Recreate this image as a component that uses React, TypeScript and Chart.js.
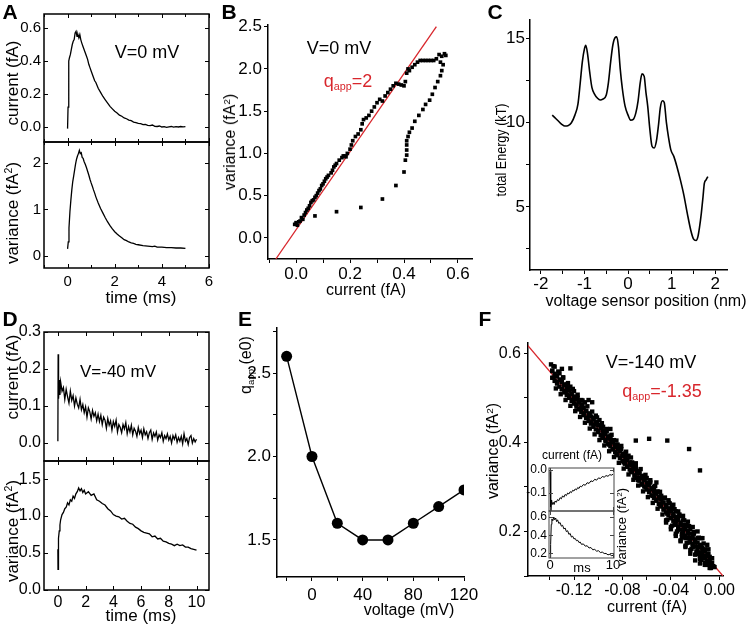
import React, { useEffect, useRef } from 'react';
import { Chart, registerables } from 'chart.js';
Chart.register(...registerables);

const FONT = '"Liberation Sans", Arial, Helvetica, sans-serif';
const RED = '#d8262c';
type Pt = [number, number];

// ---------------- DATA ----------------
// A: V=0 mV, current (fA) vs time (ms)
const aCurrent: Pt[] = [
  [0, -0.01], [0.02, 0.12], [0.05, 0.4], [0.08, 0.42], [0.12, 0.44], [0.16, 0.47], [0.2, 0.5], [0.24, 0.52],
  [0.28, 0.53], [0.32, 0.57], [0.36, 0.58], [0.4, 0.55], [0.44, 0.56], [0.48, 0.54], [0.52, 0.56], [0.56, 0.53],
  [0.6, 0.51], [0.65, 0.49], [0.7, 0.47], [0.75, 0.45], [0.8, 0.43], [0.85, 0.41], [0.9, 0.38], [0.95, 0.36],
  [1.0, 0.34], [1.05, 0.32], [1.1, 0.3], [1.15, 0.28], [1.2, 0.27], [1.3, 0.235], [1.4, 0.21], [1.5, 0.185],
  [1.6, 0.165], [1.7, 0.145], [1.8, 0.125], [1.9, 0.11], [2.0, 0.095], [2.1, 0.085], [2.2, 0.072], [2.3, 0.065],
  [2.4, 0.055], [2.5, 0.05], [2.6, 0.042], [2.7, 0.038], [2.8, 0.03], [2.9, 0.027], [3.0, 0.022], [3.1, 0.02],
  [3.2, 0.014], [3.3, 0.016], [3.4, 0.01], [3.5, 0.008], [3.6, 0.012], [3.7, 0.004], [3.8, 0.003], [3.9, 0.006],
  [4.0, 0.0], [4.1, 0.002], [4.2, -0.002], [4.3, 0.001], [4.4, 0.003], [4.5, -0.001], [4.6, 0.002], [4.7, 0.0],
  [4.8, 0.003], [4.9, 0.001], [5.0, 0.002],
];
// A: variance (fA^2) vs time (ms)
const aVariance: Pt[] = [
  [0, 0.15], [0.03, 0.3], [0.06, 0.6], [0.1, 0.95], [0.14, 1.2], [0.18, 1.42], [0.22, 1.6], [0.26, 1.72],
  [0.3, 1.85], [0.34, 1.98], [0.38, 2.08], [0.42, 2.15], [0.46, 2.2], [0.5, 2.27], [0.54, 2.2], [0.58, 2.22],
  [0.62, 2.12], [0.66, 2.1], [0.7, 2.03], [0.75, 1.97], [0.8, 1.9], [0.85, 1.82], [0.9, 1.74], [0.95, 1.65],
  [1.0, 1.57], [1.05, 1.5], [1.1, 1.42], [1.15, 1.35], [1.2, 1.27], [1.3, 1.14], [1.4, 1.02], [1.5, 0.92],
  [1.6, 0.82], [1.7, 0.73], [1.8, 0.65], [1.9, 0.58], [2.0, 0.52], [2.1, 0.47], [2.2, 0.43], [2.3, 0.39],
  [2.4, 0.35], [2.5, 0.33], [2.6, 0.3], [2.7, 0.28], [2.8, 0.27], [2.9, 0.25], [3.0, 0.24], [3.2, 0.22],
  [3.4, 0.21], [3.6, 0.2], [3.7, 0.21], [3.8, 0.19], [4.0, 0.19], [4.2, 0.18], [4.4, 0.18], [4.6, 0.17],
  [4.8, 0.17], [5.0, 0.16],
];
// B: variance vs current (V=0 mV)
const bScatter: Pt[] = [
  [-0.005, 0.16], [0, 0.18], [0.005, 0.15], [0.01, 0.19], [0.015, 0.2], [0.02, 0.24], [0.025, 0.22], [0.03, 0.27],
  [0.035, 0.3], [0.04, 0.33], [0.045, 0.35], [0.05, 0.38], [0.055, 0.42], [0.06, 0.44], [0.065, 0.45], [0.07, 0.48],
  [0.075, 0.5], [0.08, 0.53], [0.085, 0.56], [0.09, 0.58], [0.095, 0.62], [0.1, 0.64], [0.105, 0.67], [0.11, 0.7],
  [0.115, 0.72], [0.12, 0.74], [0.13, 0.77], [0.135, 0.8], [0.14, 0.84], [0.145, 0.86], [0.15, 0.88], [0.16, 0.92],
  [0.17, 0.95], [0.175, 0.97], [0.18, 0.97], [0.185, 0.96], [0.19, 1.0], [0.2, 1.05], [0.205, 1.1], [0.21, 1.15],
  [0.22, 1.2], [0.23, 1.23], [0.24, 1.28], [0.245, 1.35], [0.25, 1.4], [0.26, 1.42], [0.27, 1.45], [0.28, 1.5],
  [0.29, 1.55], [0.3, 1.6], [0.31, 1.64], [0.32, 1.62], [0.33, 1.68], [0.34, 1.72], [0.35, 1.76], [0.36, 1.8],
  [0.37, 1.83], [0.38, 1.82], [0.39, 1.81], [0.4, 1.8], [0.405, 1.85], [0.41, 1.95], [0.415, 2.0], [0.42, 1.98],
  [0.43, 2.02], [0.44, 2.05], [0.45, 2.08], [0.46, 2.1], [0.47, 2.1], [0.48, 2.1], [0.49, 2.1], [0.5, 2.1],
  [0.51, 2.1], [0.52, 2.12], [0.53, 2.17], [0.535, 2.08], [0.54, 2.15], [0.55, 2.18], [0.555, 2.16], [0.545, 2.05],
  [0.54, 1.98], [0.535, 1.92], [0.525, 1.85], [0.515, 1.78], [0.505, 1.7], [0.495, 1.63], [0.48, 1.58], [0.47, 1.52],
  [0.455, 1.45], [0.44, 1.38], [0.43, 1.3], [0.42, 1.25], [0.415, 1.2], [0.41, 1.15], [0.41, 1.1], [0.41, 1.04],
  [0.41, 0.98], [0.405, 0.92], [0.4, 0.78], [0.37, 0.62], [0.32, 0.46], [0.24, 0.36], [0.15, 0.31], [0.07, 0.26],
];
const bFitX = [-0.075, 0.52];
const bFitY = [-0.25, 2.5];
// C: total energy (kT) vs voltage sensor position (nm)
const cEnergy: Pt[] = [
  [-1.74, 10.45], [-1.68, 10.3], [-1.6, 10.1], [-1.52, 9.9], [-1.45, 9.8], [-1.38, 9.82], [-1.3, 10.0],
  [-1.22, 10.45], [-1.15, 11.1], [-1.1, 12.3], [-1.05, 13.6], [-1.0, 14.4], [-0.97, 14.6], [-0.93, 14.1],
  [-0.88, 13.0], [-0.83, 12.1], [-0.77, 11.7], [-0.7, 11.45], [-0.64, 11.35], [-0.58, 11.4], [-0.5, 11.65],
  [-0.45, 12.4], [-0.4, 13.6], [-0.35, 14.6], [-0.3, 15.05], [-0.26, 15.1], [-0.22, 14.5], [-0.18, 13.2],
  [-0.13, 12.0], [-0.07, 11.0], [0.0, 10.45], [0.06, 10.15], [0.12, 10.2], [0.18, 10.6], [0.23, 11.3],
  [0.28, 12.4], [0.32, 12.9], [0.37, 12.75], [0.41, 11.8], [0.45, 11.0], [0.5, 9.6], [0.55, 8.6], [0.6, 8.5],
  [0.65, 8.9], [0.7, 9.9], [0.74, 10.9], [0.79, 11.3], [0.83, 11.2], [0.88, 10.0], [0.93, 9.1], [0.98, 8.4],
  [1.05, 8.0], [1.12, 7.4], [1.2, 6.6], [1.28, 5.7], [1.36, 4.6], [1.44, 3.6], [1.5, 3.1], [1.56, 3.0],
  [1.6, 3.2], [1.64, 3.8], [1.68, 4.6], [1.72, 5.6], [1.75, 6.4], [1.79, 6.6], [1.83, 6.8],
];
// D: V=-40 mV current (fA) vs time (ms)
const dCurrent: Pt[] = [
  [0, 0.005], [0.02, 0.24], [0.05, 0.12], [0.1, 0.17], [0.15, 0.13], [0.2, 0.165], [0.3, 0.14], [0.4, 0.15],
  [0.5, 0.118], [0.6, 0.145], [0.7, 0.125], [0.8, 0.108], [0.9, 0.14], [1.0, 0.115], [1.1, 0.128], [1.2, 0.1],
  [1.3, 0.122], [1.4, 0.105], [1.5, 0.095], [1.6, 0.118], [1.7, 0.09], [1.8, 0.104], [1.9, 0.082], [2.0, 0.098],
  [2.1, 0.07], [2.2, 0.095], [2.3, 0.085], [2.4, 0.065], [2.5, 0.088], [2.6, 0.072], [2.7, 0.082], [2.8, 0.06],
  [2.9, 0.078], [3.0, 0.058], [3.1, 0.075], [3.2, 0.05], [3.3, 0.07], [3.4, 0.062], [3.5, 0.04], [3.6, 0.066],
  [3.7, 0.048], [3.8, 0.06], [3.9, 0.035], [4.0, 0.058], [4.1, 0.045], [4.2, 0.062], [4.3, 0.03], [4.4, 0.05],
  [4.5, 0.042], [4.6, 0.028], [4.7, 0.05], [4.8, 0.038], [4.9, 0.055], [5.0, 0.025], [5.1, 0.044], [5.2, 0.03],
  [5.3, 0.048], [5.4, 0.022], [5.5, 0.04], [5.6, 0.032], [5.7, 0.018], [5.8, 0.042], [5.9, 0.025], [6.0, 0.035],
  [6.1, 0.015], [6.2, 0.038], [6.3, 0.022], [6.4, 0.03], [6.5, 0.012], [6.6, 0.028], [6.7, 0.035], [6.8, 0.01],
  [6.9, 0.027], [7.0, 0.018], [7.1, 0.03], [7.2, 0.008], [7.3, 0.022], [7.4, 0.015], [7.5, 0.028], [7.6, 0.005],
  [7.7, 0.02], [7.8, 0.012], [7.9, 0.025], [8.0, 0.008], [8.1, 0.018], [8.2, 0.0], [8.3, 0.02], [8.4, 0.01],
  [8.5, 0.022], [8.6, 0.002], [8.7, 0.015], [8.8, 0.005], [8.9, 0.018], [9.0, -0.002], [9.1, 0.025], [9.2, 0.005],
  [9.3, 0.012], [9.4, -0.004], [9.5, 0.015], [9.6, 0.02], [9.7, 0.0], [9.8, 0.012], [9.9, 0.003], [10.0, 0.01],
];
// D: variance (fA^2) vs time (ms)
const dVariance: Pt[] = [
  [0, 0.55], [0.01, 0.28], [0.03, 0.6], [0.06, 0.7], [0.1, 0.8], [0.15, 0.88], [0.2, 0.95], [0.3, 1.02],
  [0.4, 1.05], [0.5, 1.1], [0.6, 1.12], [0.7, 1.18], [0.8, 1.15], [0.9, 1.22], [1.0, 1.2], [1.1, 1.27],
  [1.2, 1.24], [1.3, 1.3], [1.4, 1.33], [1.5, 1.38], [1.6, 1.34], [1.7, 1.37], [1.8, 1.32], [1.9, 1.35],
  [2.0, 1.3], [2.2, 1.33], [2.4, 1.28], [2.6, 1.3], [2.8, 1.22], [3.0, 1.2], [3.2, 1.17], [3.4, 1.15],
  [3.6, 1.1], [3.8, 1.07], [4.0, 1.02], [4.2, 1.0], [4.4, 0.99], [4.6, 0.96], [4.8, 0.97], [5.0, 0.93],
  [5.2, 0.9], [5.4, 0.89], [5.6, 0.85], [5.8, 0.83], [6.0, 0.8], [6.2, 0.78], [6.4, 0.77], [6.6, 0.76],
  [6.8, 0.72], [7.0, 0.73], [7.2, 0.69], [7.4, 0.7], [7.6, 0.66], [7.8, 0.65], [8.0, 0.63], [8.2, 0.62],
  [8.4, 0.6], [8.6, 0.62], [8.8, 0.6], [9.0, 0.61], [9.2, 0.58], [9.4, 0.58], [9.6, 0.56], [9.8, 0.55],
  [10.0, 0.54],
];
// E: q_app vs voltage
const eVoltage = [-20, 0, 20, 40, 60, 80, 100, 120];
const eQapp = [2.6, 2.0, 1.6, 1.5, 1.5, 1.6, 1.7, 1.8];
// F: variance vs current (V=-140 mV)
const fScatter: Pt[] = [
  [-0.139, 0.575], [-0.138, 0.56], [-0.137, 0.545], [-0.136, 0.57], [-0.135, 0.55], [-0.134, 0.535], [-0.132, 0.555],
  [-0.131, 0.54], [-0.13, 0.52], [-0.129, 0.545], [-0.128, 0.53], [-0.127, 0.515], [-0.126, 0.53], [-0.125, 0.52],
  [-0.124, 0.505], [-0.123, 0.525], [-0.122, 0.51], [-0.121, 0.495], [-0.123, 0.566], [-0.12, 0.515], [-0.119, 0.5],
  [-0.118, 0.485], [-0.117, 0.5], [-0.116, 0.49], [-0.115, 0.475], [-0.114, 0.495], [-0.113, 0.485], [-0.112, 0.465],
  [-0.111, 0.49], [-0.11, 0.47], [-0.109, 0.455], [-0.108, 0.495], [-0.107, 0.465], [-0.106, 0.445], [-0.105, 0.49],
  [-0.104, 0.455], [-0.103, 0.44], [-0.102, 0.46], [-0.101, 0.445], [-0.1, 0.425], [-0.099, 0.45], [-0.098, 0.435],
  [-0.097, 0.415], [-0.096, 0.435], [-0.095, 0.42], [-0.094, 0.405], [-0.093, 0.425], [-0.092, 0.41], [-0.091, 0.395],
  [-0.09, 0.415], [-0.089, 0.4], [-0.088, 0.385], [-0.087, 0.405], [-0.086, 0.39], [-0.085, 0.375], [-0.084, 0.395],
  [-0.083, 0.385], [-0.082, 0.365], [-0.081, 0.385], [-0.08, 0.37], [-0.079, 0.355], [-0.078, 0.375], [-0.077, 0.36],
  [-0.076, 0.345], [-0.075, 0.37], [-0.074, 0.35], [-0.073, 0.335], [-0.072, 0.355], [-0.071, 0.34], [-0.07, 0.325],
  [-0.069, 0.345], [-0.068, 0.33], [-0.067, 0.315], [-0.066, 0.335], [-0.065, 0.32], [-0.064, 0.305], [-0.063, 0.325],
  [-0.062, 0.315], [-0.061, 0.3], [-0.06, 0.32], [-0.059, 0.305], [-0.058, 0.29], [-0.057, 0.31], [-0.056, 0.295],
  [-0.055, 0.28], [-0.054, 0.3], [-0.053, 0.285], [-0.052, 0.27], [-0.051, 0.29], [-0.05, 0.275], [-0.049, 0.26],
  [-0.048, 0.28], [-0.047, 0.265], [-0.046, 0.25], [-0.045, 0.275], [-0.044, 0.255], [-0.043, 0.24], [-0.042, 0.265],
  [-0.041, 0.245], [-0.04, 0.23], [-0.039, 0.255], [-0.038, 0.235], [-0.037, 0.215], [-0.036, 0.245], [-0.035, 0.225],
  [-0.034, 0.205], [-0.033, 0.235], [-0.032, 0.215], [-0.031, 0.195], [-0.03, 0.225], [-0.029, 0.205], [-0.028, 0.185],
  [-0.027, 0.215], [-0.026, 0.195], [-0.025, 0.175], [-0.024, 0.205], [-0.023, 0.185], [-0.022, 0.165], [-0.021, 0.195],
  [-0.02, 0.175], [-0.019, 0.155], [-0.018, 0.185], [-0.017, 0.165], [-0.016, 0.145], [-0.015, 0.17], [-0.014, 0.155],
  [-0.013, 0.14], [-0.012, 0.16], [-0.011, 0.145], [-0.01, 0.13], [-0.009, 0.15], [-0.008, 0.135], [-0.007, 0.125],
  [-0.006, 0.13], [-0.005, 0.122], [-0.012, 0.125], [-0.016, 0.128], [-0.02, 0.135], [-0.024, 0.15], [-0.028, 0.165],
  [-0.032, 0.18], [-0.036, 0.195], [-0.04, 0.21], [-0.044, 0.225], [-0.069, 0.404], [-0.058, 0.408], [-0.043, 0.404],
  [-0.025, 0.385], [-0.016, 0.337], [-0.015, 0.185], [-0.052, 0.31], [-0.09, 0.43], [-0.13, 0.565],
  [-0.137, 0.571], [-0.135, 0.521], [-0.133, 0.559], [-0.131, 0.508], [-0.129, 0.546], [-0.127, 0.495], [-0.125, 0.533],
  [-0.123, 0.482], [-0.121, 0.52], [-0.119, 0.47], [-0.117, 0.507], [-0.115, 0.457], [-0.113, 0.494], [-0.111, 0.444],
  [-0.109, 0.481], [-0.107, 0.431], [-0.105, 0.469], [-0.103, 0.418], [-0.101, 0.456], [-0.099, 0.405], [-0.097, 0.443],
  [-0.095, 0.393], [-0.093, 0.43], [-0.091, 0.38], [-0.089, 0.417], [-0.087, 0.367], [-0.085, 0.404], [-0.083, 0.354],
  [-0.081, 0.392], [-0.079, 0.341], [-0.077, 0.379], [-0.075, 0.328], [-0.073, 0.366], [-0.071, 0.316], [-0.069, 0.353],
  [-0.067, 0.303], [-0.065, 0.34], [-0.063, 0.29], [-0.061, 0.327], [-0.059, 0.277], [-0.057, 0.315], [-0.055, 0.264],
  [-0.053, 0.302], [-0.051, 0.251], [-0.049, 0.289], [-0.047, 0.238], [-0.045, 0.276], [-0.043, 0.226], [-0.041, 0.263],
  [-0.039, 0.213], [-0.037, 0.25], [-0.035, 0.2], [-0.033, 0.238], [-0.031, 0.187], [-0.029, 0.225], [-0.027, 0.174],
  [-0.025, 0.212], [-0.023, 0.161], [-0.021, 0.199], [-0.019, 0.149], [-0.017, 0.186], [-0.015, 0.136], [-0.013, 0.173],
  [-0.011, 0.125], [-0.009, 0.16], [-0.007, 0.118],
  [-0.138, 0.561], [-0.138, 0.545], [-0.136, 0.554], [-0.136, 0.538], [-0.134, 0.548], [-0.134, 0.532],
  [-0.132, 0.541], [-0.132, 0.525], [-0.13, 0.535], [-0.13, 0.519], [-0.128, 0.528], [-0.128, 0.512],
  [-0.126, 0.522], [-0.126, 0.506], [-0.124, 0.516], [-0.124, 0.5], [-0.122, 0.509], [-0.122, 0.493],
  [-0.12, 0.503], [-0.12, 0.487], [-0.118, 0.496], [-0.118, 0.48], [-0.116, 0.49], [-0.116, 0.474],
  [-0.114, 0.484], [-0.114, 0.468], [-0.112, 0.477], [-0.112, 0.461], [-0.11, 0.471], [-0.11, 0.455],
  [-0.108, 0.464], [-0.108, 0.448], [-0.106, 0.458], [-0.106, 0.442], [-0.104, 0.451], [-0.104, 0.435],
  [-0.102, 0.445], [-0.102, 0.429], [-0.1, 0.439], [-0.1, 0.423], [-0.098, 0.432], [-0.098, 0.416],
  [-0.096, 0.426], [-0.096, 0.41], [-0.094, 0.419], [-0.094, 0.403], [-0.092, 0.413], [-0.092, 0.397],
  [-0.09, 0.407], [-0.09, 0.391], [-0.088, 0.4], [-0.088, 0.384], [-0.086, 0.394], [-0.086, 0.378],
  [-0.084, 0.387], [-0.084, 0.371], [-0.082, 0.381], [-0.082, 0.365], [-0.08, 0.374], [-0.08, 0.358],
  [-0.078, 0.368], [-0.078, 0.352], [-0.076, 0.362], [-0.076, 0.346], [-0.074, 0.355], [-0.074, 0.339],
  [-0.072, 0.349], [-0.072, 0.333], [-0.07, 0.342], [-0.07, 0.326], [-0.068, 0.336], [-0.068, 0.32],
  [-0.066, 0.33], [-0.066, 0.314], [-0.064, 0.323], [-0.064, 0.307], [-0.062, 0.317], [-0.062, 0.301],
  [-0.06, 0.31], [-0.06, 0.294], [-0.058, 0.304], [-0.058, 0.288], [-0.056, 0.297], [-0.056, 0.281],
  [-0.054, 0.291], [-0.054, 0.275], [-0.052, 0.285], [-0.052, 0.269], [-0.05, 0.278], [-0.05, 0.262],
  [-0.048, 0.272], [-0.048, 0.256], [-0.046, 0.265], [-0.046, 0.249], [-0.044, 0.259], [-0.044, 0.243],
  [-0.042, 0.252], [-0.042, 0.236], [-0.04, 0.246], [-0.04, 0.23], [-0.038, 0.24], [-0.038, 0.224],
  [-0.036, 0.233], [-0.036, 0.217], [-0.034, 0.227], [-0.034, 0.211], [-0.032, 0.22], [-0.032, 0.204],
  [-0.03, 0.214], [-0.03, 0.198], [-0.028, 0.207], [-0.028, 0.191], [-0.026, 0.201], [-0.026, 0.185],
  [-0.024, 0.195], [-0.024, 0.179], [-0.022, 0.188], [-0.022, 0.172], [-0.02, 0.182], [-0.02, 0.166],
  [-0.018, 0.175], [-0.018, 0.159], [-0.016, 0.169], [-0.016, 0.153], [-0.014, 0.163], [-0.014, 0.147],
  [-0.012, 0.156], [-0.012, 0.14], [-0.01, 0.15], [-0.01, 0.134], [-0.008, 0.143], [-0.008, 0.127],
  [-0.044, 0.22], [-0.042, 0.27], [-0.04, 0.205], [-0.038, 0.26], [-0.036, 0.19], [-0.034, 0.245], [-0.032, 0.178],
  [-0.03, 0.235], [-0.028, 0.168], [-0.026, 0.222], [-0.024, 0.158], [-0.022, 0.21], [-0.02, 0.148], [-0.018, 0.2],
  [-0.016, 0.138], [-0.014, 0.185], [-0.012, 0.13], [-0.01, 0.17], [-0.008, 0.118], [-0.006, 0.14], [-0.004, 0.12],
];
const fFitX = [-0.16, 0.003];
const fFitY = [0.623, 0.1];
// F inset traces
const fInsetCurrent: Pt[] = [
  [0, -0.005], [0.08, -0.175], [0.15, -0.18], [0.25, -0.13], [0.35, -0.15], [0.5, -0.14], [0.65, -0.15], [0.8, -0.135],
  [1.0, -0.14], [1.2, -0.128], [1.4, -0.133], [1.6, -0.12], [1.8, -0.125], [2.0, -0.112], [2.2, -0.118], [2.4, -0.106],
  [2.6, -0.111], [2.8, -0.1], [3.0, -0.104], [3.2, -0.094], [3.4, -0.098], [3.6, -0.088], [3.8, -0.091], [4.0, -0.082],
  [4.2, -0.086], [4.4, -0.076], [4.6, -0.08], [4.8, -0.07], [5.0, -0.073], [5.3, -0.063], [5.6, -0.066], [5.9, -0.055],
  [6.2, -0.058], [6.5, -0.047], [6.8, -0.05], [7.1, -0.04], [7.4, -0.044], [7.7, -0.034], [8.0, -0.037], [8.3, -0.028],
  [8.6, -0.031], [8.9, -0.024], [9.2, -0.027], [9.5, -0.02], [9.8, -0.022], [10.0, -0.018],
];
const fInsetVariance: Pt[] = [
  [0, 0.16], [0.1, 0.3], [0.2, 0.52], [0.3, 0.58], [0.45, 0.56], [0.6, 0.6], [0.75, 0.57], [0.9, 0.59], [1.05, 0.55],
  [1.2, 0.57], [1.4, 0.53], [1.6, 0.54], [1.8, 0.5], [2.0, 0.51], [2.2, 0.47], [2.4, 0.48], [2.6, 0.44], [2.8, 0.45],
  [3.0, 0.41], [3.2, 0.42], [3.4, 0.38], [3.6, 0.39], [3.8, 0.36], [4.0, 0.365], [4.2, 0.34], [4.4, 0.345], [4.6, 0.32],
  [4.8, 0.325], [5.0, 0.3], [5.3, 0.305], [5.6, 0.28], [5.9, 0.285], [6.2, 0.26], [6.5, 0.265], [6.8, 0.24], [7.1, 0.245],
  [7.4, 0.225], [7.7, 0.23], [8.0, 0.21], [8.3, 0.215], [8.6, 0.2], [8.9, 0.2], [9.2, 0.185], [9.5, 0.19], [9.8, 0.175],
  [10.0, 0.18],
];

// ---------------- helpers ----------------
const toXY = (d: Pt[]) => d.map(([x, y]) => ({ x, y }));
const zip = (xs: number[], ys: number[]) => xs.map((x, i) => ({ x, y: ys[i] }));
function isMult(v: number, s: number) {
  const r = v / s;
  return Math.abs(r - Math.round(r)) < 1e-6;
}
function fmt(v: number, d: number) {
  if (Math.abs(v) < 1e-9) v = 0;
  return v.toFixed(d);
}
const trace = (d: any[], w = 1.3, color = '#000') => ({
  data: d, borderColor: color, borderWidth: w, pointRadius: 0, fill: false, tension: 0,
});
const dots = (d: any[], r = 2.6) => ({
  data: d, showLine: false, pointStyle: 'rect', pointRadius: r, pointBorderWidth: 0,
  pointBackgroundColor: '#000', backgroundColor: '#000', borderColor: '#000',
});

interface AxisDef {
  min: number; max: number; step: number; labelStep: number; digits: number;
  size: number; show: boolean; pad: number;
}
interface PanelDef {
  key: string;
  rect: [number, number, number, number];
  margin: [number, number, number, number]; // L T R B
  x: AxisDef; y: AxisDef;
  frame: boolean;
  frameColor?: string;
  frameWidth?: number;
  datasets: () => any[];
}
const ax = (min: number, max: number, step: number, labelStep: number, digits: number, size: number, show: boolean, pad: number): AxisDef =>
  ({ min, max, step, labelStep, digits, size, show, pad });

const PANELS: PanelDef[] = [
  {
    key: 'A1', rect: [44, 14, 209, 142], margin: [44, 14, 10, 4], frame: true,
    x: ax(-1, 6, 1, 2, 0, 15, false, 5), y: ax(-0.091, 0.685, 0.2, 0.2, 1, 15, true, 3),
    datasets: () => [trace(toXY(aCurrent))],
  },
  {
    key: 'A2', rect: [44, 142, 209, 268], margin: [44, 4, 10, 26], frame: true,
    x: ax(-1, 6, 1, 2, 0, 15, true, 5), y: ax(-0.26, 2.45, 1, 1, 0, 15, true, 3),
    datasets: () => [trace(toXY(aVariance))],
  },
  {
    key: 'B', rect: [268, 25, 472, 259], margin: [40, 8, 10, 26], frame: false,
    x: ax(-0.104, 0.652, 0.1, 0.2, 1, 17, true, 1), y: ax(-0.25, 2.52, 0.5, 0.5, 1, 17, true, 2),
    datasets: () => [dots(toXY(bScatter), 2.6), trace(zip(bFitX, bFitY), 1.3, RED)],
  },
  {
    key: 'C', rect: [530, 20, 727, 270], margin: [32, 8, 10, 26], frame: false,
    x: ax(-2.25, 2.27, 0.5, 1, 0, 17, true, 0), y: ax(1.25, 16.1, 2.5, 5, 0, 17, true, 1),
    datasets: () => [{ ...trace(toXY(cEnergy), 1.6), cubicInterpolationMode: 'monotone' }],
  },
  {
    key: 'D1', rect: [44, 332, 209, 461], margin: [44, 10, 10, 4], frame: true,
    x: ax(-1, 10.9, 2, 2, 0, 16, false, 3), y: ax(-0.0486, 0.3, 0.1, 0.1, 1, 16, true, 3),
    datasets: () => [trace(toXY(dCurrent), 1.3)],
  },
  {
    key: 'D2', rect: [44, 461, 209, 590], margin: [44, 4, 10, 26], frame: true,
    x: ax(-1, 10.9, 2, 2, 0, 16, true, 3), y: ax(0, 1.745, 0.5, 0.5, 1, 16, true, 3),
    datasets: () => [trace(toXY(dVariance), 1.3)],
  },
  {
    key: 'E', rect: [277, 328, 464, 577], margin: [38, 8, 16, 28], frame: false,
    x: ax(-27.6, 120, 20, 40, 0, 17, true, 4), y: ax(1.278, 2.77, 0.25, 0.5, 1, 17, true, 2),
    datasets: () => [{
      ...trace(zip(eVoltage, eQapp), 1.4), pointRadius: 5.5, pointBackgroundColor: '#000',
      pointBorderWidth: 0, pointBorderColor: '#000',
    }],
  },
  {
    key: 'F', rect: [528, 343, 723, 576], margin: [40, 8, 20, 28], frame: false,
    x: ax(-0.158, 0.003, 0.02, 0.04, 2, 16, true, 1), y: ax(0.1, 0.623, 0.1, 0.2, 1, 16, true, 3),
    datasets: () => [dots(toXY(fScatter), 3.1), trace(zip(fFitX, fFitY), 1.3, RED)],
  },
  {
    key: 'F1', rect: [549, 468, 614, 511], margin: [28, 4, 4, 2], frame: true, frameColor: '#444', frameWidth: 1,
    x: ax(-0.16, 10.16, 10, 10, 0, 12, false, 1), y: ax(-0.178, 0.009, 0.1, 0.1, 1, 12, true, 2),
    datasets: () => [trace(toXY(fInsetCurrent), 1)],
  },
  {
    key: 'F2', rect: [549, 511, 614, 558], margin: [28, 2, 8, 18], frame: true, frameColor: '#444', frameWidth: 1,
    x: ax(-0.16, 10.16, 10, 10, 0, 13, true, 0), y: ax(0.15, 0.667, 0.2, 0.2, 1, 12, true, 2),
    datasets: () => [trace(toXY(fInsetVariance), 1)],
  },
];

const framePlugin = {
  id: 'frame',
  afterDraw(chart: any, _args: any, opts: any) {
    if (!opts || !opts.on) return;
    const { ctx, chartArea: a, scales } = chart;
    ctx.save();
    ctx.strokeStyle = opts.color || '#000';
    ctx.lineWidth = opts.width || 1.5;
    ctx.strokeRect(a.left, a.top, a.right - a.left, a.bottom - a.top);
    ctx.lineWidth = 1;
    const xs = scales.x, ys = scales.y;
    xs.ticks.forEach((t: any) => {
      const len = t.label === '' ? 3 : 4;
      const p = Math.round(xs.getPixelForValue(t.value)) + 0.5;
      ctx.beginPath();
      ctx.moveTo(p, a.bottom); ctx.lineTo(p, a.bottom - len);
      ctx.moveTo(p, a.top); ctx.lineTo(p, a.top + len);
      ctx.stroke();
    });
    ys.ticks.forEach((t: any) => {
      const len = t.label === '' ? 3 : 4;
      const p = Math.round(ys.getPixelForValue(t.value)) + 0.5;
      ctx.beginPath();
      ctx.moveTo(a.left, p); ctx.lineTo(a.left + len, p);
      ctx.moveTo(a.right, p); ctx.lineTo(a.right - len, p);
      ctx.stroke();
    });
    ctx.restore();
  },
};

function geom(p: PanelDef) {
  const [x0, y0, x1, y1] = p.rect;
  const [L, T, R, B] = p.margin;
  return { left: x0 - L, top: y0 - T, w: x1 - x0 + L + R, h: y1 - y0 + T + B };
}

function makeChart(canvas: HTMLCanvasElement, p: PanelDef) {
  const [L, T, R, B] = p.margin;
  const scale = (a: AxisDef, horiz: boolean) => ({
    type: 'linear',
    position: horiz ? 'bottom' : 'left',
    min: a.min,
    max: a.max,
    ticks: {
      display: a.show, stepSize: a.step, includeBounds: false, autoSkip: false,
      maxRotation: 0, minRotation: 0, padding: a.pad,
      font: { family: FONT, size: a.size }, color: '#000',
      callback: (v: any) => (isMult(Number(v), a.labelStep) ? fmt(Number(v), a.digits) : ''),
    },
    grid: p.frame
      ? { display: false, drawTicks: false, drawOnChartArea: false }
      : { display: true, drawOnChartArea: false, drawTicks: true, tickLength: 4, color: '#000', lineWidth: 1 },
    border: { display: !p.frame, color: '#000', width: 1.5 },
    afterFit: (s: any) => {
      if (horiz) s.height = B; else s.width = L;
      s.paddingLeft = 0; s.paddingRight = 0; s.paddingTop = 0; s.paddingBottom = 0;
    },
  });
  return new Chart(canvas, {
    type: 'line',
    data: { datasets: p.datasets() },
    options: {
      responsive: false,
      animation: false,
      maintainAspectRatio: false,
      events: [],
      layout: { padding: { top: T, right: R, left: 0, bottom: 0 } },
      plugins: {
        legend: { display: false },
        tooltip: { enabled: false },
        frame: { on: p.frame, color: p.frameColor, width: p.frameWidth },
      } as any,
      scales: { x: scale(p.x, true), y: scale(p.y, false) } as any,
    },
    plugins: [framePlugin as any],
  } as any);
}

// ---------------- text ----------------
const Sup = ({ c }: { c: string }) => (
  <span style={{ fontSize: '0.62em', position: 'relative', top: '-0.55em' }}>{c}</span>
);
const Sub = ({ c }: { c: string }) => (
  <span style={{ fontSize: '0.6em', position: 'relative', top: '0.3em' }}>{c}</span>
);
function Txt(props: { x: number; y: number; size: number; rot?: boolean; color?: string; bold?: boolean; sx?: number; children: any }) {
  const { x, y, size, rot, color, bold, sx, children } = props;
  return (
    <div
      style={{
        position: 'absolute', left: x, top: y,
        transform: `translate(-50%,-50%)${rot ? ' rotate(-90deg)' : ''}${sx ? ` scaleX(${sx})` : ''}`,
        fontSize: size, fontFamily: FONT, color: color || '#000', fontWeight: bold ? 'bold' : 'normal',
        whiteSpace: 'pre', lineHeight: 1,
      }}
    >
      {children}
    </div>
  );
}
const fA2 = <>variance (fA<Sup c="2" />)</>;

export default function App() {
  const refs = useRef<(HTMLCanvasElement | null)[]>([]);
  useEffect(() => {
    document.body.style.margin = '0';
    const charts = PANELS.map((p, i) => makeChart(refs.current[i] as HTMLCanvasElement, p));
    return () => charts.forEach((c) => c.destroy());
  }, []);
  return (
    <div style={{ position: 'absolute', left: 0, top: 0, width: 747, height: 628, background: '#fff', overflow: 'hidden' }}>
      {PANELS.map((p, i) => {
        const g = geom(p);
        return (
          <canvas
            key={p.key}
            ref={(el) => { refs.current[i] = el; }}
            width={g.w}
            height={g.h}
            style={{ position: 'absolute', left: g.left, top: g.top, width: g.w, height: g.h }}
          />
        );
      })}
      {/* panel letters */}
      <Txt x={10} y={11} size={21} bold>A</Txt>
      <Txt x={229} y={11} size={21} bold>B</Txt>
      <Txt x={495} y={11} size={21} bold>C</Txt>
      <Txt x={10} y={318} size={21} bold>D</Txt>
      <Txt x={245} y={318} size={21} bold>E</Txt>
      <Txt x={485} y={318} size={21} bold>F</Txt>
      {/* A */}
      <Txt x={147} y={52} size={18}>V=0 mV</Txt>
      <Txt x={12} y={83} size={17} rot>current (fA)</Txt>
      <Txt x={12} y={213} size={17} rot>{fA2}</Txt>
      <Txt x={141} y={297} size={17}>time (ms)</Txt>
      {/* B */}
      <Txt x={339} y={48} size={18}>V=0 mV</Txt>
      <Txt x={348} y={81} size={18} color={RED}>q<Sub c="app" />=2</Txt>
      <Txt x={230} y={142} size={16} rot>{fA2}</Txt>
      <Txt x={366} y={290} size={16}>current (fA)</Txt>
      {/* C */}
      <Txt x={500} y={150} size={15} rot sx={0.84}>total Energy (kT)</Txt>
      <Txt x={646} y={301} size={16}>voltage sensor position (nm)</Txt>
      {/* D */}
      <Txt x={118} y={371} size={17}>V=-40 mV</Txt>
      <Txt x={12} y={377} size={17} rot>current (fA)</Txt>
      <Txt x={12} y={531} size={17} rot>{fA2}</Txt>
      <Txt x={141} y={615} size={17}>time (ms)</Txt>
      {/* E */}
      <Txt x={246} y={365} size={16} rot>q<Sub c="app" /> (e0)</Txt>
      <Txt x={409} y={610} size={16}>voltage (mV)</Txt>
      {/* F */}
      <Txt x={651} y={362} size={18}>V=-140 mV</Txt>
      <Txt x={662} y={391} size={18} color={RED}>q<Sub c="app" />=-1.35</Txt>
      <Txt x={493} y={451} size={16} rot>{fA2}</Txt>
      <Txt x={647} y={607} size={16}>current (fA)</Txt>
      <Txt x={572} y={455} size={12}>current (fA)</Txt>
      <Txt x={622} y={527} size={13} rot>{fA2}</Txt>
      <Txt x={582} y={567} size={13}>ms</Txt>
    </div>
  );
}
